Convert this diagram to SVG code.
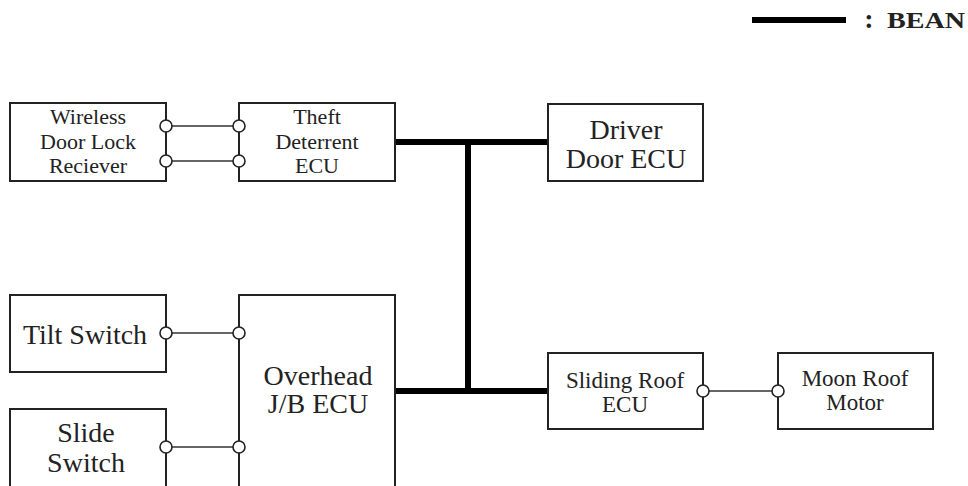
<svg xmlns="http://www.w3.org/2000/svg" width="968" height="486" viewBox="0 0 968 486">
<style>
.box{fill:#fff;stroke:#222;stroke-width:2}
.t{font-family:"Liberation Serif","Times New Roman",serif;fill:#222;text-anchor:middle}
.s{font-size:22px}
.l{font-size:28px}
.m{font-size:23px}
.bus{stroke:#000;stroke-width:6;fill:none}
.wire{stroke:#333;stroke-width:1.6;fill:none}
.pin{fill:#fff;stroke:#222;stroke-width:1.6}
</style>
<rect width="968" height="486" fill="#fff"/>
<g id="legend">
<line x1="752" y1="20" x2="846" y2="20" class="bus"/>
<text x="869" y="28" class="t" style="font-size:28px;font-weight:bold">:</text>
<text x="926" y="28" class="t" style="font-size:24px;font-weight:bold" textLength="78" lengthAdjust="spacingAndGlyphs">BEAN</text>
</g>
<g id="connectors">
<line x1="395" y1="142" x2="548" y2="142" class="bus"/>
<line x1="468" y1="142" x2="468" y2="391" class="bus"/>
<line x1="395" y1="391" x2="548" y2="391" class="bus"/>
<line x1="166" y1="126" x2="239" y2="126" class="wire"/>
<line x1="166" y1="161" x2="239" y2="161" class="wire"/>
<line x1="166" y1="333" x2="239" y2="333" class="wire"/>
<line x1="166" y1="447" x2="239" y2="447" class="wire"/>
<line x1="703" y1="391" x2="778" y2="391" class="wire"/>
</g>
<g id="wireless">
<rect x="10" y="103" width="156" height="78" class="box"/>
<text class="t s" x="88" y="124">Wireless</text>
<text class="t s" x="88" y="149">Door Lock</text>
<text class="t s" x="88" y="173">Reciever</text>
<circle cx="166" cy="126" r="6" class="pin"/>
<circle cx="166" cy="161" r="6" class="pin"/>
</g>
<g id="theft">
<rect x="239" y="103" width="156" height="78" class="box"/>
<text class="t s" x="317" y="124">Theft</text>
<text class="t s" x="317" y="149">Deterrent</text>
<text class="t s" x="317" y="173">ECU</text>
<circle cx="239" cy="126" r="6" class="pin"/>
<circle cx="239" cy="161" r="6" class="pin"/>
</g>
<g id="driver">
<rect x="548" y="104" width="155" height="77" class="box"/>
<text class="t l" x="626" y="139">Driver</text>
<text class="t l" x="626" y="168">Door ECU</text>
</g>
<g id="tilt">
<rect x="10" y="295" width="156" height="77" class="box"/>
<text class="t l" x="85" y="344">Tilt Switch</text>
<circle cx="166" cy="333" r="6" class="pin"/>
</g>
<g id="slide">
<rect x="10" y="409" width="156" height="90" class="box"/>
<text class="t l" x="86" y="442">Slide</text>
<text class="t l" x="86" y="472">Switch</text>
<circle cx="166" cy="447" r="6" class="pin"/>
</g>
<g id="overhead">
<rect x="239" y="295" width="156" height="210" class="box"/>
<text class="t l" x="318" y="385">Overhead</text>
<text class="t l" x="318" y="413">J/B ECU</text>
<circle cx="239" cy="333" r="6" class="pin"/>
<circle cx="239" cy="447" r="6" class="pin"/>
</g>
<g id="sliding">
<rect x="548" y="353" width="155" height="76" class="box"/>
<text class="t m" x="625" y="388">Sliding Roof</text>
<text class="t m" x="625" y="412">ECU</text>
<circle cx="703" cy="391" r="6" class="pin"/>
</g>
<g id="moon">
<rect x="778" y="353" width="155" height="76" class="box"/>
<text class="t m" x="855" y="386">Moon Roof</text>
<text class="t m" x="855" y="410">Motor</text>
<circle cx="778" cy="391" r="6" class="pin"/>
</g>
</svg>
